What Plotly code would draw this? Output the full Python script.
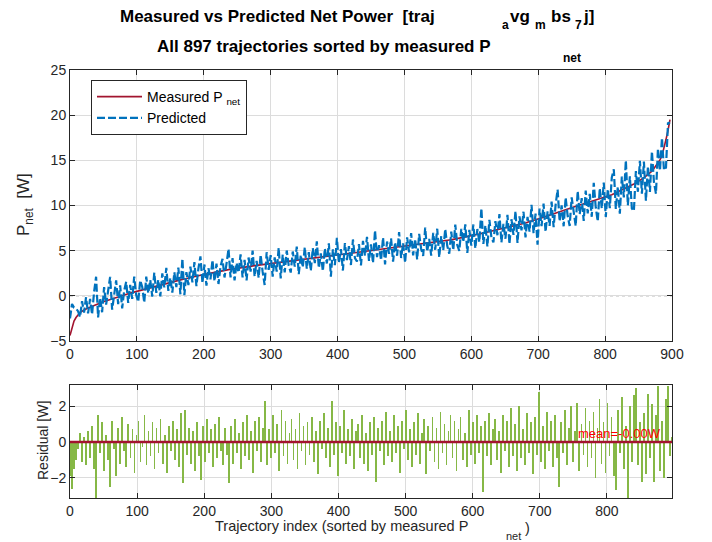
import numpy as np
import plotly.graph_objects as go

# ---------------- data ----------------
# trajectory index (every 3rd trajectory of the 897, sorted by measured P_net)
traj_index = list(range(0, 898, 3))

measured_w = [
    -4.40, -3.50, -2.80, -2.40, -2.10, -1.85, -1.70, -1.55, -1.45, -1.35,
    -1.25, -1.16, -1.07, -0.98, -0.89, -0.80, -0.72, -0.64, -0.56, -0.48,
    -0.40, -0.33, -0.26, -0.19, -0.12, -0.05, 0.02, 0.09, 0.16, 0.23,
    0.30, 0.36, 0.42, 0.48, 0.54, 0.61, 0.68, 0.75, 0.82, 0.89,
    0.95, 1.01, 1.07, 1.13, 1.18, 1.23, 1.29, 1.34, 1.40, 1.45,
    1.50, 1.55, 1.61, 1.66, 1.72, 1.77, 1.82, 1.87, 1.93, 1.98,
    2.03, 2.08, 2.13, 2.18, 2.23, 2.27, 2.32, 2.37, 2.42, 2.47,
    2.52, 2.56, 2.61, 2.66, 2.71, 2.75, 2.79, 2.83, 2.86, 2.90,
    2.93, 2.97, 3.00, 3.04, 3.07, 3.10, 3.14, 3.17, 3.21, 3.24,
    3.28, 3.31, 3.34, 3.37, 3.40, 3.44, 3.47, 3.50, 3.53, 3.57,
    3.60, 3.63, 3.66, 3.68, 3.71, 3.74, 3.77, 3.80, 3.82, 3.85,
    3.88, 3.91, 3.94, 3.96, 3.99, 4.02, 4.05, 4.08, 4.10, 4.13,
    4.16, 4.19, 4.21, 4.24, 4.27, 4.30, 4.32, 4.35, 4.38, 4.41,
    4.43, 4.46, 4.49, 4.51, 4.54, 4.57, 4.60, 4.63, 4.66, 4.69,
    4.71, 4.74, 4.77, 4.80, 4.83, 4.86, 4.89, 4.92, 4.94, 4.97,
    5.00, 5.03, 5.05, 5.08, 5.11, 5.13, 5.16, 5.18, 5.21, 5.24,
    5.26, 5.29, 5.32, 5.34, 5.37, 5.39, 5.42, 5.45, 5.48, 5.51,
    5.54, 5.57, 5.60, 5.63, 5.66, 5.69, 5.72, 5.75, 5.78, 5.81,
    5.84, 5.87, 5.90, 5.93, 5.97, 6.01, 6.05, 6.09, 6.13, 6.17,
    6.21, 6.25, 6.29, 6.33, 6.37, 6.42, 6.46, 6.51, 6.56, 6.60,
    6.65, 6.70, 6.75, 6.80, 6.85, 6.90, 6.95, 7.00, 7.06, 7.11,
    7.16, 7.21, 7.26, 7.31, 7.36, 7.41, 7.46, 7.52, 7.57, 7.63,
    7.68, 7.74, 7.79, 7.85, 7.90, 7.95, 8.01, 8.07, 8.14, 8.20,
    8.27, 8.34, 8.41, 8.47, 8.55, 8.62, 8.70, 8.78, 8.86, 8.94,
    9.02, 9.10, 9.18, 9.26, 9.34, 9.42, 9.50, 9.58, 9.66, 9.74,
    9.80, 9.86, 9.93, 9.99, 10.06, 10.12, 10.19, 10.25, 10.32, 10.38,
    10.45, 10.51, 10.58, 10.64, 10.71, 10.77, 10.84, 10.92, 11.01, 11.10,
    11.20, 11.30, 11.40, 11.50, 11.60, 11.70, 11.80, 11.90, 12.02, 12.14,
    12.26, 12.38, 12.50, 12.62, 12.74, 12.90, 13.07, 13.24, 13.42, 13.60,
    13.80, 14.10, 14.40, 14.70, 15.05, 15.50, 16.30, 17.30, 18.30, 19.50,
]

# residual = measured - predicted
residual_w = [
    -1.9, -2.6, -1.5, -1.0, -0.4, 0.5, -1.1, 0.3, -1.3, 0.6,
    -0.9, 0.9, -1.5, -3.1, 1.5, -0.6, 1.1, -1.6, 0.4, -1.0,
    -2.5, 1.2, -0.4, -1.9, 0.8, -1.2, 1.4, -0.5, -1.4, 1.0,
    -0.9, 0.7, -1.7, 0.4, 1.2, -1.1, -0.3, 1.5, -1.3, 0.6,
    -0.8, 1.1, -1.5, 0.8, -0.6, 1.3, -1.2, 0.4, -1.7, 0.9,
    -0.5, 1.2, -1.0, 0.7, -1.4, 1.6, -2.3, 1.8, -0.7, 0.8,
    -1.2, 0.6, -1.6, 1.1, -0.8, -2.1, 0.9, -1.1, 1.3, -0.6,
    0.7, -1.4, 1.0, -0.9, 1.4, -0.5, -1.3, 0.8, -0.7, -2.3,
    0.9, -1.2, 1.3, -0.6, 0.5, -1.5, 1.1, -0.8, 1.5, -1.0,
    0.6, -1.7, 1.2, -0.5, 1.4, -1.1, 0.8, 2.3, -1.3, 0.7,
    -0.9, 1.5, -0.6, 1.0, -1.6, 1.8, -0.8, 1.2, -1.2, 0.5,
    1.3, -1.0, 0.7, -1.5, 1.6, -0.5, 0.9, -1.3, 1.1, -0.7,
    1.4, -1.1, 0.6, -1.8, 1.2, -0.4, 1.6, -0.9, 0.8, -1.4,
    2.3, -0.7, 1.1, -1.9, 0.9, -0.6, 1.8, -1.2, 0.7, -0.8,
    1.3, -1.5, 0.6, 1.0, -0.9, 1.5, -1.2, 0.5, -1.6, 1.1,
    -0.7, 1.4, -2.2, 0.8, -0.5, 1.2, -1.3, 1.7, -0.8, 0.6,
    -1.1, 1.5, -0.6, 0.9, -1.7, 1.2, -0.4, 1.8, -1.0, 0.7,
    -1.4, 1.1, -0.7, 1.6, -1.2, 0.5, 1.3, -1.8, 0.9, -0.5,
    1.4, -1.1, 0.8, -1.5, 1.7, -0.6, 1.0, -1.3, 0.6, 1.5,
    -0.9, 1.2, -1.6, 0.7, 1.4, -1.0, 0.5, -1.4, 1.8, -0.7,
    1.1, -1.2, 1.5, -0.6, 0.9, -2.8, 1.2, -0.8, 1.6, -1.3,
    0.7, 1.3, -1.0, 0.6, -1.7, 1.5, -0.5, 1.2, -1.4, 1.9,
    -0.8, 1.0, -1.6, 2.0, -0.9, 0.7, -1.3, 1.6, -0.6, 1.1,
    -1.8, 1.4, -0.7, 2.8, -1.1, 0.9, -1.5, 1.7, -0.5, 1.2,
    -1.4, 1.5, -0.9, -2.5, 1.1, -0.6, 1.8, -1.3, 0.8, 2.0,
    -1.1, 0.6, 2.2, -1.6, 1.0, -0.7, 1.9, -1.4, 1.2, -0.9,
    1.7, -2.0, 0.8, 2.4, -1.2, 1.1, -1.7, 2.2, -0.8, 1.4,
    -1.9, -2.7, 1.8, -0.6, 2.5, -1.5, 0.9, -3.1, 2.0, -1.1,
    2.6, 3.0, -1.3, 1.1, -2.2, 1.6, -1.8, 2.7, -0.9, 2.1,
    -2.2, 1.5, 3.1, -1.6, 1.2, -2.0, 2.4, 3.1, -0.8, 0.3,
]

predicted_w = (np.array(measured_w) - np.array(residual_w)).tolist()

# ---------------- styling ----------------
FONT = "Liberation Sans, Arial, Helvetica, sans-serif"
C_MEAS = "#A2142F"
C_PRED = "#0072BD"
C_RES = "#86b846"
AX = "#262626"
GRID = "#dcdcdc"

OFF = 8                      # page body margin of the rendered html
W, H = 712 - OFF, 542 - OFF  # figure size so that it ends at the window edge
ML, MR, MT, MB = 70 - OFF, 40, 70 - OFF, 44
PW, PH = W - ML - MR, H - MT - MB
PLOT_LEFT, PLOT_BOTTOM = 70, 498  # window pixels


def px_x(px):
    return (px - PLOT_LEFT) / PW


def px_y(py):
    return (PLOT_BOTTOM - py) / PH


fig = go.Figure()

fig.add_trace(go.Scatter(
    x=traj_index, y=measured_w, mode="lines",
    line=dict(color=C_MEAS, width=1.6),
    name="Measured P\u00a0<sub>net</sub>", xaxis="x", yaxis="y",
))
fig.add_trace(go.Scatter(
    x=traj_index, y=predicted_w, mode="lines",
    line=dict(color=C_PRED, width=2.2, dash="8px,3px"),
    name="Predicted", xaxis="x", yaxis="y",
))
fig.add_trace(go.Bar(
    x=traj_index, y=residual_w, width=1.2,
    marker=dict(color=C_RES, line=dict(width=0)),
    showlegend=False, xaxis="x2", yaxis="y2",
))

# zero reference lines
fig.add_shape(type="line", xref="x domain", yref="y", x0=0, x1=1, y0=0, y1=0,
              line=dict(color="#9a9a9a", width=1, dash="dot"), layer="below")
fig.add_shape(type="line", xref="x2 domain", yref="y2", x0=0, x1=1, y0=0, y1=0,
              line=dict(color=C_MEAS, width=2.4))

axis_common = dict(
    showline=True, linecolor=AX, linewidth=1, mirror="ticks",
    ticks="inside", ticklen=5, tickcolor=AX,
    showgrid=True, gridcolor=GRID, gridwidth=1, zeroline=False,
    tickfont=dict(family=FONT, size=14, color=AX),
)

top_bottom = px_y(341)
res_top = px_y(385)

fig.update_layout(
    width=W, height=H,
    margin=dict(l=ML, r=MR, t=MT, b=MB),
    paper_bgcolor="white", plot_bgcolor="white",
    font=dict(family=FONT, color=AX),
    bargap=0,
    xaxis=dict(domain=[0, 1], range=[0, 900], dtick=100, anchor="y", **axis_common),
    yaxis=dict(domain=[top_bottom, 1], range=[-5, 25], dtick=5, anchor="x", **axis_common),
    xaxis2=dict(domain=[0, 1], range=[0, 897], dtick=100, anchor="y2", **axis_common),
    yaxis2=dict(domain=[0, res_top], range=[-3.12, 3.18], tickvals=[-2, 0, 2],
                anchor="x2", **axis_common),
    legend=dict(
        x=px_x(91), y=px_y(80), xanchor="left", yanchor="top",
        bgcolor="white", bordercolor=AX, borderwidth=1,
        font=dict(family=FONT, size=14, color="black"),
        itemwidth=45, tracegroupgap=0,
    ),
    showlegend=True,
)

ann = []


def txt(text, px, py, size, bold=False, color="black", angle=0, xanchor="left"):
    t = f"<b>{text}</b>" if bold else text
    ann.append(dict(
        text=t, x=px_x(px), y=px_y(py), xref="paper", yref="paper",
        xanchor=xanchor, yanchor="middle", showarrow=False, textangle=angle,
        borderpad=0, font=dict(family=FONT, size=size, color=color),
    ))


# title line 1 (MATLAB tex rendering of underscores as subscripts)
txt("Measured vs Predicted Net Power\u00a0\u00a0[traj", 119, 17, 17, bold=True)
txt("a", 501, 25, 12, bold=True)
txt("vg", 509, 17, 17, bold=True)
txt("m", 534, 25, 12, bold=True)
txt("bs", 550, 17, 17, bold=True)
txt("7", 574, 25, 12, bold=True)
txt("j]", 582, 17, 17, bold=True)
# title line 2
txt("All 897 trajectories sorted by measured P", 156, 47, 17, bold=True)
txt("net", 562, 58, 12, bold=True)

# y axis titles
txt("P<sub>net</sub>\u00a0\u00a0[W]", 25, 205, 17, color=AX, angle=-90, xanchor="center")
txt("Residual [W]", 43, 441, 14, color=AX, angle=-90, xanchor="center")

# x axis title of lower panel
txt("Trajectory index (sorted by measured P", 214, 526, 14.5, color=AX)
txt("net", 505, 536, 11, color=AX)
txt(")", 524, 528, 14.5, color=AX)

# mean label
txt("mean=-0.00W", 577, 433, 13, color="#FF0000")

fig.update_layout(annotations=ann)

fig.write_html("out.html")
